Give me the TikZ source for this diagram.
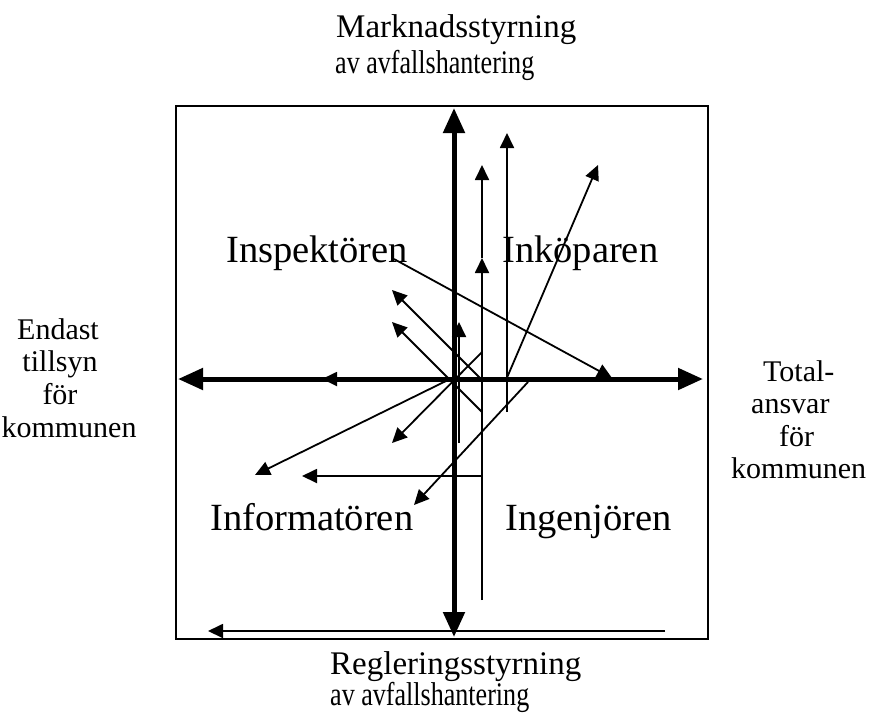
\documentclass[tikz,border=0pt]{standalone}
\usepackage{fontspec}
\setmainfont{Liberation Serif}
\usetikzlibrary{arrows.meta}
\begin{document}
\begin{tikzpicture}[x=1pt,y=-1pt,
  thinarrow/.style={line width=1.8pt,-{Triangle[length=15pt,width=14pt]}},
  axisarrow/.style={line width=5pt,{Triangle[length=25pt,width=21pt]}-{Triangle[length=25pt,width=21pt]}},
  frame/.style={line width=2.5pt},
  big/.style={font=\fontsize{38.5}{40}\selectfont, inner sep=0pt},
  axislabel/.style={font=\fontsize{33}{35}\selectfont, inner sep=0pt},
  sidelabel/.style={font=\fontsize{30}{32}\selectfont, inner sep=0pt}]
\useasboundingbox (0,0) rectangle (881,713);
% frame
\draw[frame] (176,106) rectangle (708,639);
% axes
\coordinate (ytop) at (454,108);
\coordinate (ybot) at (454,637);
\coordinate (xleft) at (178,379);
\coordinate (xright) at (703,379);
\draw[axisarrow] (ybot) -- (ytop);
\draw[axisarrow] (xleft) -- (xright);
% thin arrows
\coordinate (o) at (454,379);
\coordinate (h1) at (322,379);
\draw[thinarrow] (o) -- (h1);
\coordinate (v2a) at (507,412);
\coordinate (v2b) at (507,133);
\draw[thinarrow] (v2a) -- (v2b);
\coordinate (v3a) at (482,600);
\coordinate (v3m) at (482,258);
\coordinate (v3b) at (482,165);
\draw[thinarrow] (v3a) -- (v3m);
\draw[thinarrow] (v3m) -- (v3b);
\coordinate (h4a) at (482,476);
\coordinate (h4b) at (302,476);
\draw[thinarrow] (h4a) -- (h4b);
\coordinate (v5a) at (459,443);
\coordinate (v5b) at (459,322);
\draw[thinarrow] (v5a) -- (v5b);
\coordinate (d6a) at (394,259);
\coordinate (d6b) at (612,378);
\draw[thinarrow] (d6a) -- (d6b);
\coordinate (d7a) at (506,380);
\coordinate (d7b) at (598,165);
\draw[thinarrow] (d7a) -- (d7b);
\coordinate (d8a) at (480,378);
\coordinate (d8b) at (392,290);
\draw[thinarrow] (d8a) -- (d8b);
\coordinate (d9a) at (482,412);
\coordinate (d9b) at (392,322);
\draw[thinarrow] (d9a) -- (d9b);
\coordinate (d10a) at (482,352);
\coordinate (d10b) at (392,443);
\draw[thinarrow] (d10a) -- (d10b);
\coordinate (d11a) at (446,381);
\coordinate (d11b) at (255,475);
\draw[thinarrow] (d11a) -- (d11b);
\coordinate (d12a) at (528,382);
\coordinate (d12b) at (414,505);
\draw[thinarrow] (d12a) -- (d12b);
\coordinate (h13a) at (665,631);
\coordinate (h13b) at (208,631);
\draw[thinarrow] (h13a) -- (h13b);
% quadrant labels
\node[big, anchor=base west] (insp) at (226,262) {Inspektören};
\node[big, anchor=base west] (inko) at (502,262) {Inköparen};
\node[big, anchor=base west] (info) at (210,530) {Informatören};
\node[big, anchor=base west] (inge) at (505,530) {Ingenjören};
% axis labels
\node[axislabel, anchor=base west] (mk1) at (336,37) {Marknadsstyrning};
\node[axislabel, anchor=base west] (mk2) at (335,73) {\scalebox{0.79}[1]{av avfallshantering}};
\node[axislabel, anchor=base west] (rg1) at (330,674) {Regleringsstyrning};
\node[axislabel, anchor=base west] (rg2) at (330,705) {\scalebox{0.79}[1]{av avfallshantering}};
% left labels
\node[sidelabel, anchor=base] (l1) at (58,339) {Endast};
\node[sidelabel, anchor=base] (l2) at (60,371) {tillsyn};
\node[sidelabel, anchor=base] (l3) at (60,404) {för};
\node[sidelabel, anchor=base] (l4) at (69,437) {kommunen};
% right labels
\node[sidelabel, anchor=base west] (r1) at (763,381) {Total-};
\node[sidelabel, anchor=base west] (r2) at (751,413) {ansvar};
\node[sidelabel, anchor=base west] (r3) at (779,446) {för};
\node[sidelabel, anchor=base west] (r4) at (731,478) {kommunen};
\end{tikzpicture}
\end{document}
